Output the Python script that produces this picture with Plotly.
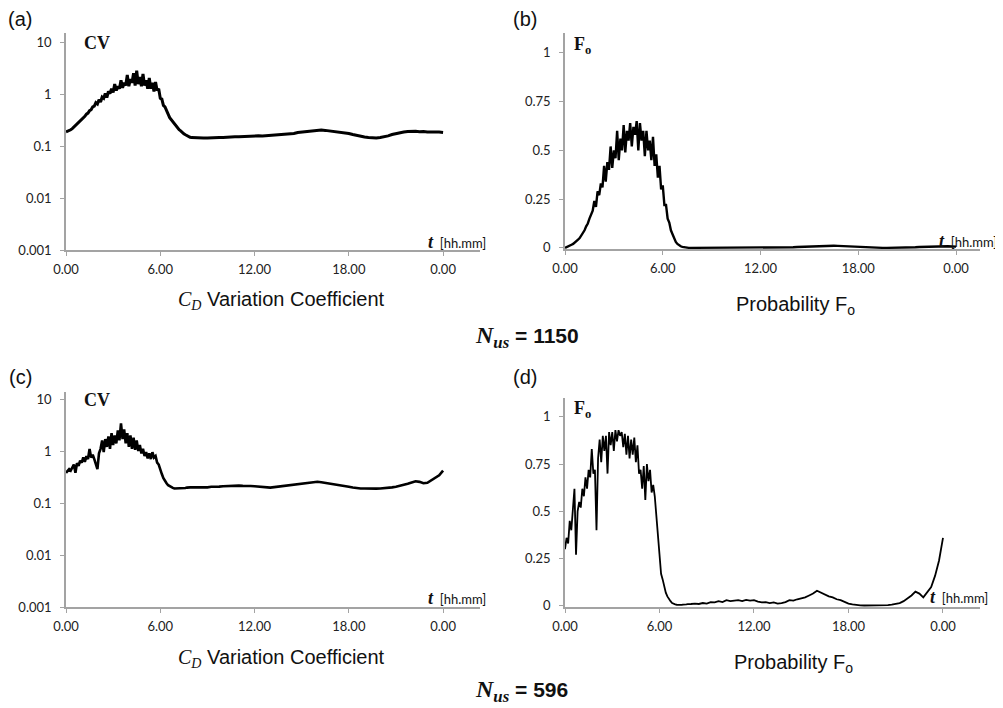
import plotly.graph_objects as go

# page is drawn with an 8 px body margin, so the figure is 995 x 700
OFF = 8
W, H = 1003 - OFF, 708 - OFF

# ---------------- data ----------------
# time grid (hours): fine 0..8 step 0.1, coarse 8.25..24 step 0.25
t_fine = [round(0.1 * i, 2) for i in range(81)]
t_coarse = [round(8.25 + 0.25 * i, 2) for i in range(64)]
t_hours = t_fine + t_coarse

x_tick_vals = [0, 6, 12, 18, 24]
x_tick_text = ["0.00", "6.00", "12.00", "18.00", "0.00"]
cv_tick_vals = [0.001, 0.01, 0.1, 1, 10]
cv_tick_text = ["0.001", "0.01", "0.1", "1", "10"]
fo_tick_vals = [0, 0.25, 0.5, 0.75, 1]
fo_tick_text = ["0", "0.25", "0.5", "0.75", "1"]

# (a) CV, Nus = 1150
cv_a_fine = [0.19, 0.195, 0.2, 0.21, 0.22, 0.235, 0.25, 0.27, 0.29, 0.31,
             0.33, 0.36, 0.38, 0.42, 0.44, 0.49, 0.51, 0.58, 0.6, 0.7,
             0.66, 0.8, 0.72, 0.9, 0.85, 1.05, 0.88, 1.15, 1.05, 1.3,
             1.1, 1.6, 1.2, 1.45, 1.3, 1.9, 1.35, 1.7, 1.5, 2.4,
             1.45, 2.0, 1.7, 2.6, 1.5, 2.9, 1.6, 2.2, 1.45, 2.5,
             1.5, 1.9, 1.3, 2.1, 1.3, 1.7, 1.15, 1.75, 1.2, 1.3,
             0.85, 0.82, 0.62, 0.58, 0.47, 0.42, 0.36, 0.33, 0.29, 0.27,
             0.245, 0.23, 0.21, 0.2, 0.185, 0.175, 0.168, 0.16, 0.155, 0.15,
             0.148]
cv_a_coarse = [0.146, 0.144, 0.146, 0.145, 0.147, 0.146, 0.149, 0.148, 0.151, 0.15,
               0.153, 0.154, 0.156, 0.155, 0.158, 0.157, 0.16, 0.159, 0.161, 0.16,
               0.163, 0.164, 0.166, 0.168, 0.172, 0.178, 0.186, 0.19, 0.196, 0.2,
               0.204, 0.203, 0.207, 0.204, 0.2, 0.198, 0.195, 0.19, 0.186, 0.178,
               0.17, 0.162, 0.156, 0.152, 0.149, 0.147, 0.146, 0.149, 0.153, 0.16,
               0.17, 0.178, 0.186, 0.19, 0.195, 0.198, 0.196, 0.193, 0.195, 0.19,
               0.192, 0.188, 0.19, 0.186]

# (b) Fo, Nus = 1150
fo_b_fine = [0.0, 0.005, 0.008, 0.012, 0.016, 0.02, 0.026, 0.034, 0.042, 0.05,
             0.062, 0.075, 0.09, 0.11, 0.125, 0.15, 0.17,
             0.19, 0.24, 0.21, 0.29, 0.27, 0.33, 0.31, 0.42, 0.34, 0.44,
             0.4, 0.52, 0.41, 0.5, 0.46, 0.6, 0.45, 0.56, 0.5, 0.63,
             0.49, 0.6, 0.55, 0.64, 0.52, 0.62, 0.58, 0.65, 0.5, 0.64,
             0.55, 0.6, 0.47, 0.6, 0.5, 0.55, 0.45, 0.57, 0.42, 0.48,
             0.36, 0.42, 0.3, 0.32,
             0.22, 0.22, 0.15, 0.13, 0.09, 0.07, 0.045, 0.03, 0.02, 0.012,
             0.008, 0.005, 0.003, 0.002, 0.001, 0.0, 0.0, 0.0, 0.0, 0.0]
fo_b_coarse = [0.0, 0.0, 0.0, 0.0, 0.0, 0.0, 0.0, 0.0, 0.0, 0.0005,
               0.0, 0.0005, 0.0, 0.001, 0.0005, 0.001, 0.001, 0.001, 0.0015, 0.001,
               0.002, 0.002, 0.003, 0.003, 0.004, 0.005, 0.006, 0.007, 0.008, 0.009,
               0.01, 0.011, 0.012, 0.011, 0.01, 0.009, 0.007, 0.006, 0.004, 0.003,
               0.002, 0.001, 0.001, 0.0005, 0.0, 0.0, 0.0, 0.0, 0.0, 0.0005,
               0.001, 0.001, 0.002, 0.003, 0.004, 0.005, 0.006, 0.007, 0.008, 0.008,
               0.009, 0.008, 0.007, 0.006]

# (c) CV, Nus = 596
cv_c_fine = [0.38, 0.42, 0.45, 0.42, 0.5, 0.55, 0.38, 0.58, 0.52, 0.65,
             0.6, 0.75, 0.62, 0.8, 0.7, 1.1, 0.75, 0.85, 0.7, 0.55,
             0.45, 0.9, 1.1, 1.6, 0.95, 1.7, 1.2, 1.9, 1.1, 2.2,
             1.3, 2.0, 1.4, 2.5, 1.6, 3.4, 1.7, 2.6, 1.4, 2.2,
             1.2, 2.0, 1.1, 1.8, 1.05, 1.6, 1.0, 1.3, 0.9, 1.1,
             0.8, 0.95, 0.72, 0.9, 0.7, 0.95, 0.75, 0.8, 0.6, 0.55,
             0.43, 0.36, 0.3, 0.26, 0.24, 0.22, 0.21, 0.2, 0.195, 0.19,
             0.19, 0.195, 0.19, 0.194, 0.192, 0.196, 0.194, 0.198, 0.196, 0.2,
             0.2]
cv_c_coarse = [0.2, 0.198, 0.202, 0.2, 0.205, 0.203, 0.207, 0.21, 0.212, 0.215,
               0.213, 0.216, 0.214, 0.215, 0.212, 0.21, 0.206, 0.204, 0.2, 0.198,
               0.202, 0.206, 0.21, 0.215, 0.218, 0.222, 0.228, 0.232, 0.236, 0.242,
               0.248, 0.256, 0.25, 0.244, 0.238, 0.232, 0.226, 0.222, 0.215, 0.206,
               0.198, 0.193, 0.19, 0.19, 0.188, 0.19, 0.189, 0.19, 0.192, 0.195,
               0.2, 0.206, 0.214, 0.222, 0.235, 0.248, 0.262, 0.255, 0.24, 0.245,
               0.27, 0.3, 0.34, 0.42]

# (d) Fo, Nus = 596
fo_d_fine = [0.3, 0.36, 0.33, 0.45, 0.4, 0.5, 0.62, 0.27, 0.5, 0.55,
             0.52, 0.62, 0.58, 0.68, 0.62, 0.72, 0.68, 0.83, 0.7, 0.72,
             0.4, 0.78, 0.88, 0.76, 0.9, 0.82, 0.9, 0.7, 0.92, 0.85,
             0.92, 0.82, 0.93, 0.87, 0.93, 0.9, 0.92, 0.84, 0.91, 0.8,
             0.9, 0.78, 0.88, 0.8, 0.89, 0.76, 0.85, 0.7, 0.72, 0.62,
             0.74, 0.56, 0.75, 0.66, 0.72, 0.6, 0.64, 0.58, 0.48, 0.38,
             0.25, 0.17, 0.14, 0.1, 0.07, 0.05, 0.035, 0.025, 0.015, 0.01,
             0.008, 0.006, 0.005, 0.006, 0.005, 0.007, 0.006, 0.008, 0.009, 0.008,
             0.01]
fo_d_coarse = [0.012, 0.01, 0.015, 0.012, 0.02, 0.018, 0.025, 0.02, 0.03, 0.025,
               0.028, 0.03, 0.025, 0.032, 0.028, 0.03, 0.022, 0.018, 0.02, 0.015,
               0.018, 0.012, 0.015, 0.02, 0.03, 0.028, 0.035, 0.04, 0.045, 0.055,
               0.065, 0.08, 0.07, 0.06, 0.05, 0.045, 0.035, 0.03, 0.02, 0.012,
               0.008, 0.004, 0.003, 0.002, 0.002, 0.002, 0.003, 0.002, 0.003, 0.004,
               0.006, 0.01, 0.015, 0.025, 0.04, 0.055, 0.075, 0.065, 0.045, 0.07,
               0.1, 0.16, 0.24, 0.36]

cv_a = cv_a_fine + cv_a_coarse
fo_b = fo_b_fine + fo_b_coarse
cv_c = cv_c_fine + cv_c_coarse
fo_d = fo_d_fine + fo_d_coarse

# ---------------- layout helpers (screen pixel -> paper) ----------------
def px(x):
    return (x - OFF) / W

def py(y):
    return 1 - (y - OFF) / H

AX_GRAY = "#a3a3a3"
TICK_FONT = dict(family="Lato, Roboto, sans-serif", size=13, color="#222")

fig = go.Figure()

panels = [
    # name, data, is_log, px-left, px-right, px-top, px-bottom, xmax, yrange, lw
    ("1", cv_a, True, 66, 480, 33, 250, 26.35, [-3, 1.19], 3.0),
    ("2", fo_b, False, 565, 980, 33, 249, 25.47, [-0.006, 1.102], 2.4),
    ("3", cv_c, True, 66, 480, 392, 607, 26.35, [-3, 1.135], 2.6),
    ("4", fo_d, False, 565, 980, 398, 607, 26.35, [-0.006, 1.1], 1.8),
]

layout = dict(
    width=W, height=H,
    margin=dict(l=0, r=0, t=0, b=0, pad=0, autoexpand=False),
    paper_bgcolor="white", plot_bgcolor="white",
    showlegend=False,
)

for name, vals, is_log, l, r, t, b, xmax, yr, lw in panels:
    xa = "x" if name == "1" else "x" + name
    ya = "y" if name == "1" else "y" + name
    fig.add_trace(go.Scatter(x=t_hours, y=vals, mode="lines",
                             line=dict(color="black", width=lw),
                             xaxis=xa, yaxis=ya, hoverinfo="skip"))
    xkey = "xaxis" if name == "1" else "xaxis" + name
    ykey = "yaxis" if name == "1" else "yaxis" + name
    layout[xkey] = dict(
        domain=[px(l), px(r)], anchor=ya, range=[0, xmax], automargin=False,
        showgrid=False, zeroline=False, showline=True, linecolor=AX_GRAY, linewidth=1.6,
        ticks="outside", ticklen=4, tickcolor=AX_GRAY, tickwidth=1.2,
        tickvals=x_tick_vals, ticktext=x_tick_text, tickfont=TICK_FONT,
        ticklabelstandoff=3,
    )
    ydict = dict(
        domain=[py(b), py(t)], anchor=xa, range=yr, automargin=False,
        showgrid=False, zeroline=False, showline=True, linecolor=AX_GRAY, linewidth=1.6,
        ticks="outside", ticklen=4, tickcolor=AX_GRAY, tickwidth=1.2,
        tickfont=TICK_FONT, ticklabelstandoff=6,
    )
    if is_log:
        ydict.update(type="log", tickvals=cv_tick_vals, ticktext=cv_tick_text)
    else:
        ydict.update(tickvals=fo_tick_vals, ticktext=fo_tick_text)
    layout[ykey] = ydict

fig.update_layout(**layout)

SERIF = "Liberation Serif, Times New Roman, serif"
SANS = "Liberation Sans, Arial, sans-serif"

def ann(x, y, text, font, xanchor="center", yanchor="middle"):
    fig.add_annotation(xref="paper", yref="paper", x=px(x), y=py(y), text=text,
                       showarrow=False, font=font, xanchor=xanchor, yanchor=yanchor)

# panel letters
for lx, ly, lab in [(20, 19, "(a)"), (525, 19, "(b)"), (20, 377, "(c)"), (525, 377, "(d)")]:
    ann(lx, ly, lab, dict(family=SANS, size=20, color="#111"))

# inner series labels
ann(82, 43, "<b>CV</b>", dict(family=SERIF, size=18, color="#111"), xanchor="left")
ann(82, 400, "<b>CV</b>", dict(family=SERIF, size=18, color="#111"), xanchor="left")
ann(572, 46, "<b>F<sub>o</sub></b>", dict(family=SERIF, size=18, color="#111"), xanchor="left")
ann(572, 409, "<b>F<sub>o</sub></b>", dict(family=SERIF, size=18, color="#111"), xanchor="left")

# t [hh.mm] labels
t_lab = ("<b><i style='font-family:Liberation Serif'>t</i></b>"
         "<span style='font-size:13px'>  [hh.mm]</span>")
for tx, ty in [(426, 242), (937, 241), (426, 598), (928, 597)]:
    ann(tx, ty, t_lab, dict(family=TICK_FONT["family"], size=18, color="#111"), xanchor="left")

# panel titles
cd_title = ("<i style='font-family:Liberation Serif'>C<sub>D</sub></i> Variation Coefficient")
ann(281, 300, cd_title, dict(family=SANS, size=20, color="#111"))
ann(281, 658, cd_title, dict(family=SANS, size=20, color="#111"))
fo_title = "Probability F<sub>o</sub>"
ann(795, 305, fo_title, dict(family=SANS, size=20, color="#111"))
ann(793, 663, fo_title, dict(family=SANS, size=20, color="#111"))

# Nus labels
def nus(v):
    return ("<b><i style='font-family:Liberation Serif;font-size:24px'>N<sub>us</sub></i>"
            " = " + v + "</b>")

ann(527, 337, nus("1150"), dict(family=SANS, size=21, color="#111"))
ann(521, 691, nus("596"), dict(family=SANS, size=21, color="#111"))

fig.write_html("out.html")
